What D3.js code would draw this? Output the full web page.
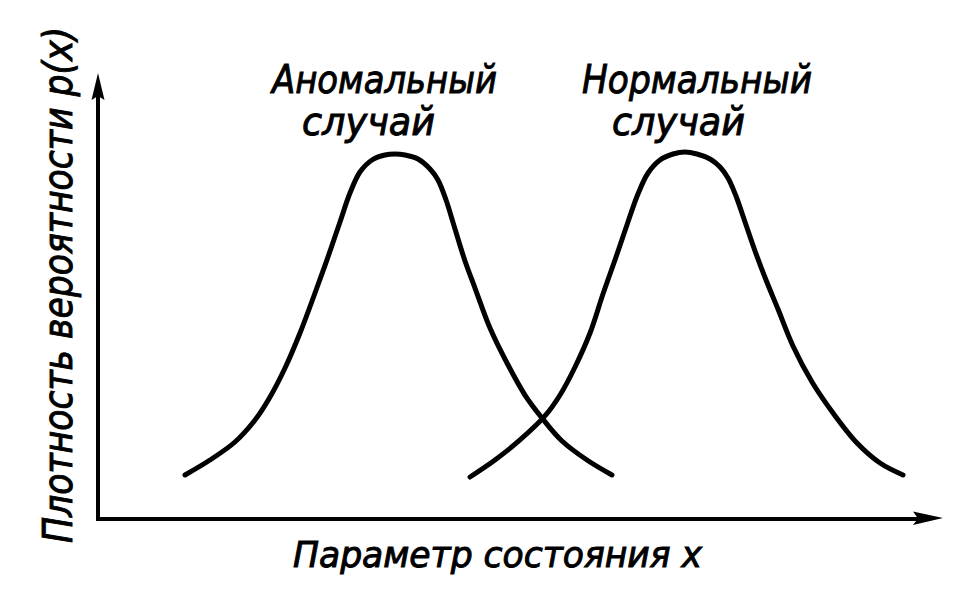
<!DOCTYPE html>
<html>
<head>
<meta charset="utf-8">
<script src="https://cdn.jsdelivr.net/npm/d3@7"></script>
<style>
  html, body { margin: 0; padding: 0; background: #fff; }
  svg { display: block; }
  .lbl { font-family: "Liberation Sans Narrow", "DejaVu Sans Condensed", "Liberation Sans", sans-serif; font-style: italic; fill: #000; stroke: #000; stroke-width: 0.9; }
</style>
</head>
<body>
<svg id="chart" width="975" height="595"></svg>
<script>
// ---- data (x: parameter of state, y: probability density, arbitrary units 0..100) ----
const anomalousX = [10.27, 13.22, 16.17, 18.54, 20.31, 22.08, 23.85, 25.62, 27.15, 28.57, 29.75, 30.93, 32.35, 33.88, 35.06,
                    36.25, 37.78, 39.20, 40.14, 41.09, 42.15, 43.33, 44.51, 46.28, 48.29, 50.41, 52.42, 54.78, 57.73, 60.68];
const anomalousY = [10.07, 13.42, 17.45, 22.37, 27.52, 34.00, 41.83, 50.78, 58.84, 66.67, 73.15, 77.85, 80.54, 81.66, 81.88,
                    81.66, 80.76, 78.52, 76.06, 71.59, 65.10, 57.94, 51.90, 42.95, 35.12, 27.96, 22.82, 17.67, 13.42, 10.07];
const normalX = [43.92, 46.87, 49.82, 52.77, 54.55, 56.32, 58.09, 59.62, 61.16, 62.57, 63.75, 64.94, 66.35, 67.89, 69.30,
                 70.72, 72.26, 73.44, 74.38, 75.32, 76.39, 77.57, 78.87, 80.28, 82.05, 84.30, 86.78, 89.61, 92.33, 95.04];
const normalY = [9.62, 13.42, 17.90, 23.27, 27.96, 34.23, 41.83, 50.56, 58.84, 66.67, 72.93, 77.63, 80.54, 81.88, 82.33,
                 81.88, 80.76, 78.97, 76.51, 72.48, 66.67, 60.18, 53.69, 47.20, 38.93, 30.87, 23.94, 17.23, 12.75, 10.07];
const curveLabels = [["Аномальный", "случай"], ["Нормальный", "случай"]];
const xTitle = "Параметр состояния x";
const yTitle = "Плотность вероятности p(x)";

const svg = d3.select("#chart");
const x = d3.scaleLinear().domain([0, 100]).range([98, 945]);
const y = d3.scaleLinear().domain([0, 100]).range([520, 73]);

// axes
const g = svg.append("g");
g.append("line")
  .attr("x1", x(0) - 2).attr("y1", y(0) - 1)
  .attr("x2", x(100) - 20).attr("y2", y(0) - 1)
  .attr("stroke", "#000").attr("stroke-width", 4);
g.append("path")
  .attr("d", `M${x(100) - 2},${y(0) - 2} L${x(100) - 32},${y(0) - 8.5} L${x(100) - 27},${y(0) - 1.5} L${x(100) - 32},${y(0) + 5} Z`)
  .attr("fill", "#000");
g.append("line")
  .attr("x1", x(0)).attr("y1", y(0) + 1)
  .attr("x2", x(0)).attr("y2", y(100) + 18)
  .attr("stroke", "#000").attr("stroke-width", 4);
g.append("path")
  .attr("d", `M${x(0)},${y(100)} L${x(0) - 6.5},${y(100) + 27} L${x(0)},${y(100) + 23} L${x(0) + 6.5},${y(100) + 27} Z`)
  .attr("fill", "#000");

// curves
const line = d3.line().x(d => x(d[0])).y(d => y(d[1])).curve(d3.curveCatmullRom.alpha(0.5));
const series = [d3.zip(anomalousX, anomalousY), d3.zip(normalX, normalY)];
svg.append("g").selectAll("path").data(series).join("path")
  .attr("d", line)
  .attr("fill", "none").attr("stroke", "#000").attr("stroke-width", 5)
  .attr("stroke-linecap", "round").attr("stroke-linejoin", "round");

// curve labels
const labelPos = [
  { x: 272, y: 93, w1: 225, x2: 302, y2: 135, w2: 133 },
  { x: 582, y: 93, w1: 230, x2: 612, y2: 135, w2: 133 }
];
curveLabels.forEach((lines, i) => {
  const p = labelPos[i];
  svg.append("text").attr("class", "lbl").attr("x", p.x).attr("y", p.y)
    .attr("font-size", 39).attr("textLength", p.w1).attr("lengthAdjust", "spacingAndGlyphs").text(lines[0]);
  svg.append("text").attr("class", "lbl").attr("x", p.x2).attr("y", p.y2)
    .attr("font-size", 39).attr("textLength", p.w2).attr("lengthAdjust", "spacingAndGlyphs").text(lines[1]);
});

// axis titles
svg.append("text").attr("class", "lbl").attr("x", 293).attr("y", 567)
  .attr("font-size", 35).attr("textLength", 409).attr("lengthAdjust", "spacingAndGlyphs").text(xTitle);
svg.append("text").attr("class", "lbl")
  .attr("transform", "translate(72,543) rotate(-90)")
  .attr("font-size", 40).attr("textLength", 516).attr("lengthAdjust", "spacingAndGlyphs").text(yTitle);
</script>
</body>
</html>
